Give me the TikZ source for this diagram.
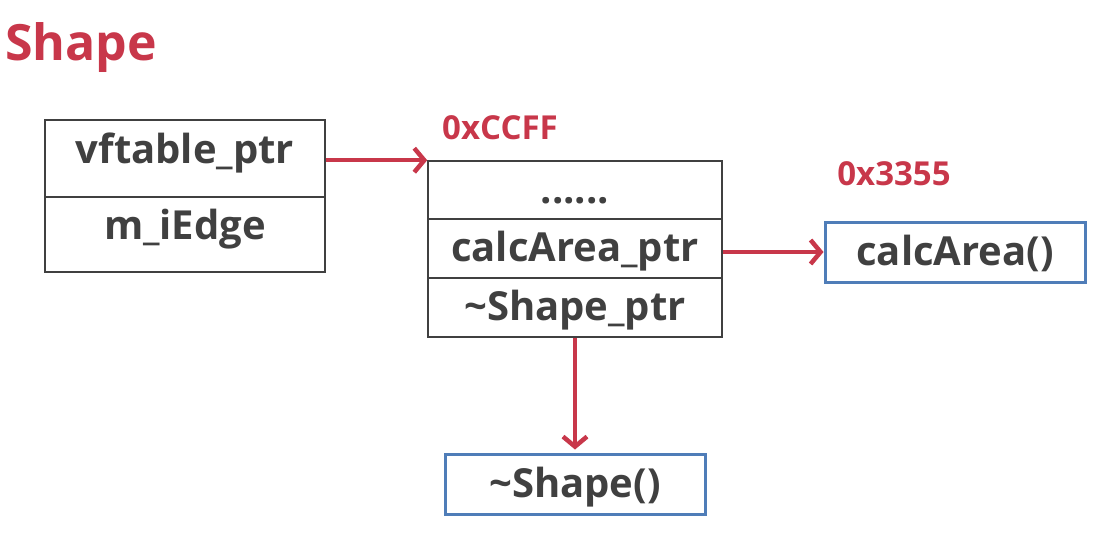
\documentclass[tikz,border=0pt]{standalone}
\usepackage{fontspec}
\setmainfont{Open Sans}
\usetikzlibrary{arrows.meta}
\definecolor{myred}{HTML}{C8374A}
\definecolor{mygray}{HTML}{404040}
\definecolor{myblue}{HTML}{4F7DB8}
\tikzset{
  cell/.style={draw=mygray, line width=1.6pt, rectangle, inner sep=0pt, text=mygray,
    text height=30pt, text depth=4pt,
    font=\fontsize{40}{44}\selectfont\bfseries},
  objcell/.style={cell, text height=20pt, text depth=10pt},
  func/.style={draw=myblue, line width=3pt, rectangle, inner sep=0pt, text=mygray,
    text height=30pt, text depth=4pt,
    font=\fontsize{40}{44}\selectfont\bfseries},
  addr/.style={text=myred, inner sep=0pt, font=\fontsize{33}{36}\selectfont\bfseries},
  ptr/.style={draw=myred, line width=4.5pt, -{Straight Barb[length=10pt,width=24pt,line width=4.5pt]}},
}
\begin{document}
\begin{tikzpicture}[x=1pt,y=-1pt]
\useasboundingbox (0,0) rectangle (1115,536);
\node[anchor=base west, text=myred, inner sep=0pt, font=\fontsize{50}{54}\selectfont\bfseries] (title) at (5,60) {Shape};
% left object
\node[objcell, minimum width=280pt, minimum height=77pt] (vf) at (185,158.5) {vftable\_ptr};
\node[objcell, minimum width=280pt, minimum height=75pt] (me) at (185,234.5) {m\_iEdge};
% vtable
\node[cell, minimum width=294pt, minimum height=58pt] (dots) at (575,190) {......};
\node[cell, minimum width=294pt, minimum height=59pt] (ca) at (575,248.5) {calcArea\_ptr};
\node[cell, minimum width=294pt, minimum height=59pt] (sp) at (575,307.5) {\textasciitilde Shape\_ptr};
% addresses
\node[addr] (a1) at (500,128) {0xCCFF};
\node[addr] (a2) at (894,174) {0x3355};
% functions
\node[func, minimum width=260pt, minimum height=60pt] (calc) at (955,252) {calcArea()};
\node[func, minimum width=260pt, minimum height=60pt] (dtor) at (575,484) {\textasciitilde Shape()};
% arrows
\coordinate (c1) at (vf.east |- dots.north west);
\draw[ptr] (c1) -- (dots.north west);
\draw[ptr] (ca.east |- calc.west) -- (calc.west);
\draw[ptr, shorten >=3pt] (sp.south) -- (dtor.north);
\end{tikzpicture}
\end{document}
